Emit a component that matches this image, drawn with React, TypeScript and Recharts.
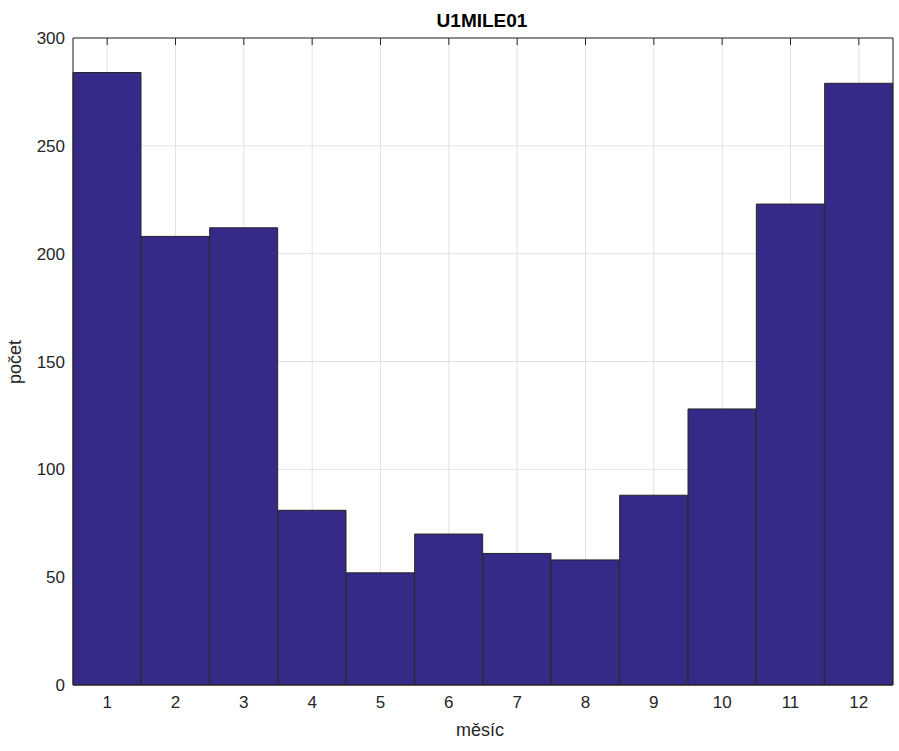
import { BarChart, Bar, XAxis, YAxis, CartesianGrid } from "recharts";

const months = ["1", "2", "3", "4", "5", "6", "7", "8", "9", "10", "11", "12"];
const counts = [284, 208, 212, 81, 52, 70, 61, 58, 88, 128, 223, 279];
const yTicks = [0, 50, 100, 150, 200, 250, 300];

const data = months.map((month, i) => ({ month, count: counts[i] }));

const ink = "#262626";
const font = "'Liberation Sans', Arial, Helvetica, sans-serif";

// tick marks only, no label text
const NoLabel = () => <g />;

export default function App() {
  return (
    <div style={{ position: "absolute", left: 0, top: 0, width: 899, height: 751, background: "#fff", fontFamily: font }}>
      <BarChart
        width={899}
        height={751}
        data={data}
        barCategoryGap={0}
        margin={{ top: 38, right: 6, bottom: 0, left: 0 }}
      >
        <CartesianGrid stroke="#e2e2e2" strokeWidth={1} />
        <XAxis
          dataKey="month"
          height={66}
          tickLine={false}
          tickSize={0}
          tickMargin={11}
          axisLine={{ stroke: ink }}
          tick={{ fill: ink, fontSize: 17, fontFamily: font }}
        />
        {/* box top edge with inward ticks */}
        <XAxis
          xAxisId="top"
          dataKey="month"
          orientation="top"
          height={1}
          mirror
          tick={NoLabel}
          tickSize={7}
          tickLine={{ stroke: ink }}
          axisLine={{ stroke: ink }}
        />
        <YAxis
          domain={[0, 300]}
          ticks={yTicks}
          width={73}
          tickLine={false}
          tickSize={0}
          tickMargin={8}
          axisLine={{ stroke: ink }}
          tick={{ fill: ink, fontSize: 17, fontFamily: font }}
        />
        {/* box right edge */}
        <YAxis
          yAxisId="right"
          orientation="right"
          domain={[0, 300]}
          ticks={yTicks}
          width={1}
          mirror
          tick={false}
          tickLine={false}
          axisLine={{ stroke: ink }}
        />
        <Bar dataKey="count" fill="#352a87" stroke={ink} strokeWidth={1} isAnimationActive={false} />
      </BarChart>
      <svg
        width={899}
        height={751}
        style={{ position: "absolute", left: 0, top: 0, pointerEvents: "none" }}
      >
        <text x={482} y={27} textAnchor="middle" fontSize={19} fontWeight="bold" fill="#000" fontFamily={font}>
          U1MILE01
        </text>
        <text x={480} y={736} textAnchor="middle" fontSize={18} fill={ink} fontFamily={font}>
          měsíc
        </text>
        <text
          x={21}
          y={362}
          textAnchor="middle"
          fontSize={18}
          fill={ink}
          fontFamily={font}
          transform="rotate(-90, 21, 362)"
        >
          počet
        </text>
      </svg>
    </div>
  );
}
